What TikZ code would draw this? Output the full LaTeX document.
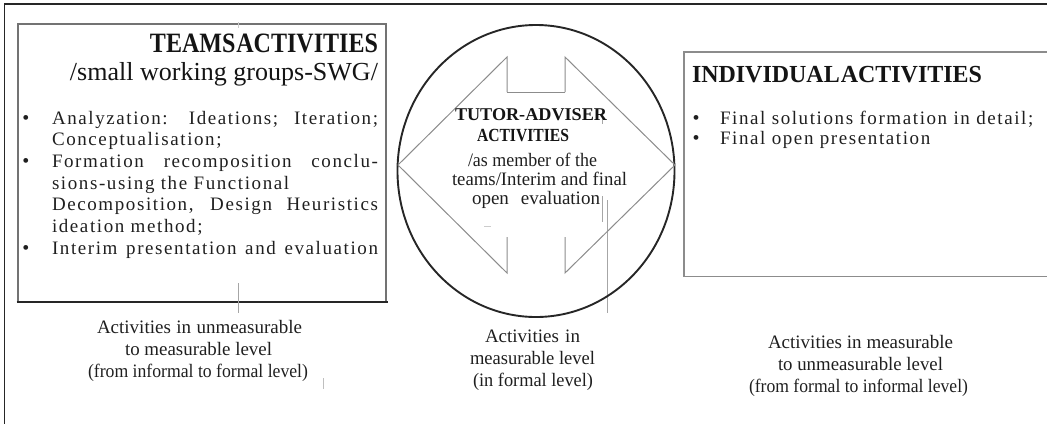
\documentclass[tikz,border=0pt]{standalone}
\usepackage{fontspec}
\usepackage{graphicx}
\setmainfont{Liberation Serif}
\newfontfamily\bodyfont{Liberation Serif}[LetterSpace=8.4]
\newlength\tmpw
\newcommand\fitw[2]{\resizebox{#1}{\height}{#2}}
\newcommand\fit[2]{\settowidth\tmpw{#2}\ifdim\tmpw>#1\relax\resizebox{#1}{\height}{#2}\else\makebox[#1][s]{#2}\fi}
\newcommand\jline[1]{\fit{326pt}{#1}}
\begin{document}
\begin{tikzpicture}[x=1pt,y=-1pt,
  every node/.style={inner sep=0pt,outer sep=0pt},
  frameln/.style={draw=black!85,line width=1.3pt},
  boxln/.style={draw=black!55,line width=1.4pt},
  rboxln/.style={draw=black!45,line width=1.3pt},
  circln/.style={draw=black!85,line width=1.9pt},
  arrln/.style={draw=black!45,line width=1pt,line join=miter},
  strayln/.style={draw=black!35,line width=0.8pt},
  body/.style={font=\bodyfont\fontsize{19}{22}\selectfont,text=black!88},
  bullet/.style={font=\fontsize{20}{20}\selectfont,text=black!88},
  mid/.style={font=\fontsize{19}{22}\selectfont,text=black!88},
  bot/.style={font=\fontsize{19}{22}\selectfont,text=black!88},
  head/.style={text=black!92}
]
\useasboundingbox (0,0) rectangle (1047,424);
% outer frame
\draw[frameln] (1047,4) -- (4.5,4) -- (4.5,424);
% left box
\draw[boxln] (18,302) -- (18,24) -- (386,24) -- (386,302);
\draw[draw=black!85,line width=2.6pt] (16.5,302) -- (387.5,302);
% right box
\draw[rboxln] (1047,52) -- (684,52) -- (684,276.5) -- (1047,276.5);
% stray marks
\draw[strayln] (238,283) -- (238,313);
\draw[strayln,draw=black!20] (238,22) -- (238,28);
\draw[strayln] (607,200) -- (607,313);
\draw[strayln] (602,196) -- (602,222);
\draw[strayln] (602,114) -- (602,124);
\draw[strayln,draw=black!20] (484,226) -- (491,226);
\draw[strayln,draw=black!25] (323,378) -- (323,389);
% circle and double arrow
\draw[circln] (536,171) ellipse [x radius=138.5pt, y radius=146pt];
\draw[arrln] (507,92) -- (507,57) -- (398,165) -- (507,273) -- (507,237);
\draw[arrln] (507,92) -- (565,92);
\draw[arrln] (565,92) -- (565,57) -- (675,165) -- (565,273) -- (565,237);

% left box texts
\node[head,anchor=base east] (th) at (378,52)
  {\fitw{228pt}{\fontsize{28}{30}\selectfont\bfseries TEAMS \kern-6pt ACTIVITIES}};
\node[head,anchor=base east] (ts) at (378,80)
  {\fitw{308pt}{\fontsize{26}{30}\selectfont /small working groups-SWG/}};
\node[bullet,anchor=base] (lb1) at (26,124.5) {•};
\node[bullet,anchor=base] (lb2) at (26,167.5) {•};
\node[bullet,anchor=base] (lb3) at (26,254.5) {•};
\node[body,anchor=base west] (l1) at (52,124) {\jline{Analyzation: Ideations; Iteration;}};
\node[body,anchor=base west] (l2) at (52,145.5) {Conceptualisation;};
\node[body,anchor=base west] (l3) at (52,167) {\jline{Formation recomposition conclu-}};
\node[body,anchor=base west] (l4) at (52,189) {sions-using the Functional};
\node[body,anchor=base west] (l5) at (52,210.5) {\jline{Decomposition, Design Heuristics}};
\node[body,anchor=base west] (l6) at (52,232) {ideation method;};
\node[body,anchor=base west] (l7) at (52,254) {\jline{Interim presentation and evaluation}};

% right box texts
\node[head,anchor=base west] (ih) at (692,82)
  {\fitw{290pt}{\fontsize{24.5}{28}\selectfont\bfseries INDIVIDUAL \kern-5pt ACTIVITIES}};
\node[bullet,anchor=base] (rb1) at (696,124.5) {•};
\node[bullet,anchor=base] (rb2) at (696,144.5) {•};
\node[body,anchor=base west] (r1) at (720,124) {Final solutions formation in detail;};
\node[body,anchor=base west] (r2) at (720,144) {Final open presentation};

% circle texts
\node[head,anchor=base west] (c1) at (455,120)
  {\fitw{152pt}{\fontsize{18}{21}\selectfont\bfseries TUTOR-ADVISER}};
\node[head,anchor=base west] (c2) at (477,141)
  {\fitw{92pt}{\fontsize{18.5}{21}\selectfont\bfseries ACTIVITIES}};
\node[mid,anchor=base west] (c3) at (468,166) {\fit{129pt}{/as member of the}};
\node[mid,anchor=base west] (c4) at (452,185.5) {\fit{175pt}{teams/Interim and final}};
\node[mid,anchor=base west] (c5) at (472,204) {\fit{128pt}{open evaluation}};

% bottom texts
\node[bot,anchor=base west] (a1) at (97,333) {\fit{205pt}{Activities in unmeasurable}};
\node[bot,anchor=base west] (a2) at (125,355) {\fit{147pt}{to measurable level}};
\node[bot,anchor=base west] (a3) at (88,377) {\fit{220pt}{(from informal to formal level)}};
\node[bot,anchor=base west] (m1) at (485,342) {\fit{95pt}{Activities in}};
\node[bot,anchor=base west] (m2) at (470,364) {\fit{125pt}{measurable level}};
\node[bot,anchor=base west] (m3) at (473,386) {\fit{120pt}{(in formal level)}};
\node[bot,anchor=base west] (n1) at (768,348) {\fit{185pt}{Activities in measurable}};
\node[bot,anchor=base west] (n2) at (778,370) {\fit{165pt}{to unmeasurable level}};
\node[bot,anchor=base west] (n3) at (749,392) {\fit{219pt}{(from formal to informal level)}};
\end{tikzpicture}
\end{document}
